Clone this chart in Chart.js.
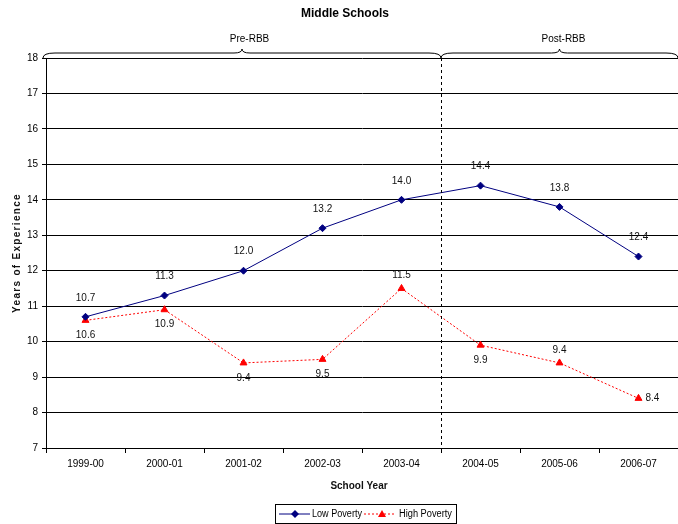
<!DOCTYPE html>
<html><head><meta charset="utf-8">
<script src="https://cdn.jsdelivr.net/npm/chart.js@4.4.0/dist/chart.umd.min.js"></script>
<style>html,body{margin:0;padding:0;background:#fff;}canvas{display:block;}</style>
</head><body>
<canvas id="c" width="678" height="524"></canvas>
<script>
const categories = ['1999-00','2000-01','2001-02','2002-03','2003-04','2004-05','2005-06','2006-07'];
const lowPoverty = [10.7, 11.3, 12.0, 13.2, 14.0, 14.4, 13.8, 12.4];
const highPoverty = [10.6, 10.9, 9.4, 9.5, 11.5, 9.9, 9.4, 8.4];
const highLabelPos = ['below','below','below','below','above','below','above','right'];
const periodLabels = ['Pre-RBB', 'Post-RBB'];
const FONT = '"Liberation Sans", Arial, sans-serif';

const overlay = {
  id: 'overlay',
  afterDatasetsDraw(chart) {
    const ctx = chart.ctx, x = chart.scales.x, y = chart.scales.y, ca = chart.chartArea;
    ctx.save();
    // divider
    const xd = (x.getPixelForValue(4) + x.getPixelForValue(5)) / 2;
    ctx.strokeStyle = '#000'; ctx.lineWidth = 1; ctx.setLineDash([3,3]);
    ctx.beginPath(); ctx.moveTo(Math.round(xd)+0.5, ca.top); ctx.lineTo(Math.round(xd)+0.5, ca.bottom); ctx.stroke();
    ctx.setLineDash([]);
    // braces
    function brace(x1, x2, yb) {
      const m = (x1 + x2) / 2;
      ctx.beginPath();
      ctx.moveTo(x1, yb + 5);
      ctx.quadraticCurveTo(x1, yb, x1 + 12, yb);
      ctx.lineTo(m - 8, yb);
      ctx.quadraticCurveTo(m, yb, m, yb - 4);
      ctx.quadraticCurveTo(m, yb, m + 8, yb);
      ctx.lineTo(x2 - 12, yb);
      ctx.quadraticCurveTo(x2, yb, x2, yb + 5);
      ctx.stroke();
    }
    ctx.lineWidth = 1;
    brace(ca.left - 3, xd, 53);
    brace(xd, ca.right, 53);
    ctx.fillStyle = '#000'; ctx.font = '10px ' + FONT; ctx.textAlign = 'center'; ctx.textBaseline = 'middle';
    ctx.fillText(periodLabels[0], (ca.left + xd) / 2 + 6, 39);
    ctx.fillText(periodLabels[1], (xd + ca.right) / 2 + 4, 39);
    // data labels
    ctx.fillStyle = '#111';
    lowPoverty.forEach((v, i) => {
      ctx.textAlign = 'center';
      ctx.fillText(v.toFixed(1), x.getPixelForValue(i), y.getPixelForValue(v) - 19);
    });
    highPoverty.forEach((v, i) => {
      const px = x.getPixelForValue(i), py = y.getPixelForValue(v);
      const p = highLabelPos[i];
      if (p === 'below') { ctx.textAlign = 'center'; ctx.fillText(v.toFixed(1), px, py + 15); }
      else if (p === 'above') { ctx.textAlign = 'center'; ctx.fillText(v.toFixed(1), px, py - 13); }
      else { ctx.textAlign = 'left'; ctx.fillText(v.toFixed(1), px + 7, py); }
    });
    // axis titles
    ctx.font = 'bold 10px ' + FONT; ctx.textAlign = 'center';
    ctx.fillText('School Year', (ca.left + ca.right) / 2 - 3, 486);
    ctx.save();
    ctx.translate(17, (ca.top + ca.bottom) / 2);
    ctx.rotate(-Math.PI / 2);
    ctx.letterSpacing = '1.3px';
    ctx.fillText('Years of Experience', 0, 0);
    ctx.restore();
    // legend
    const lx = 275, ly = 504, lw = 181, lh = 19;
    ctx.strokeStyle = '#000'; ctx.lineWidth = 1;
    ctx.strokeRect(lx + 0.5, ly + 0.5, lw, lh);
    const cy = ly + lh / 2 + 0.5;
    const d0 = chart.data.datasets[0], d1 = chart.data.datasets[1];
    ctx.strokeStyle = d0.borderColor; ctx.beginPath(); ctx.moveTo(lx + 4, cy); ctx.lineTo(lx + 35, cy); ctx.stroke();
    ctx.fillStyle = d0.pointBackgroundColor;
    ctx.beginPath(); ctx.moveTo(lx + 20, cy - 4); ctx.lineTo(lx + 24, cy); ctx.lineTo(lx + 20, cy + 4); ctx.lineTo(lx + 16, cy); ctx.closePath(); ctx.fill();
    ctx.fillStyle = '#000'; ctx.font = '10px ' + FONT; ctx.textAlign = 'left';
    ctx.fillText(d0.label, lx + 37, cy, 50);
    ctx.strokeStyle = d1.borderColor; ctx.setLineDash([2,2]);
    ctx.beginPath(); ctx.moveTo(lx + 89, cy); ctx.lineTo(lx + 121, cy); ctx.stroke(); ctx.setLineDash([]);
    ctx.fillStyle = d1.pointBackgroundColor;
    ctx.beginPath(); ctx.moveTo(lx + 107, cy - 4); ctx.lineTo(lx + 111, cy + 3); ctx.lineTo(lx + 103, cy + 3); ctx.closePath(); ctx.fill();
    ctx.fillStyle = '#000';
    ctx.fillText(d1.label, lx + 124, cy, 53);
    // title
    ctx.font = 'bold 12px ' + FONT; ctx.textAlign = 'center';
    ctx.fillText('Middle Schools', 345, 14);
    ctx.restore();
  }
};

new Chart(document.getElementById('c'), {
  type: 'line',
  data: {
    labels: categories,
    datasets: [
      { label: 'Low Poverty', data: lowPoverty, borderColor: '#000080', backgroundColor: '#000080',
        pointBackgroundColor: '#000080', pointBorderColor: '#000080', borderWidth: 1,
        pointStyle: 'rectRot', pointRadius: 3.5, tension: 0 },
      { label: 'High Poverty', data: highPoverty, borderColor: '#ff0000', backgroundColor: '#ff0000',
        pointBackgroundColor: '#ff0000', pointBorderColor: '#ff0000', borderWidth: 1, borderDash: [2,2],
        pointStyle: 'triangle', pointRadius: 4, tension: 0 }
    ]
  },
  options: {
    responsive: false, animation: false, devicePixelRatio: 1,
    layout: { autoPadding: false, padding: { top: 58, right: 0, left: 0, bottom: 0 } },
    plugins: { legend: { display: false }, title: { display: false }, tooltip: { enabled: false } },
    scales: {
      x: {
        offset: true,
        afterFit: s => { s.height = 76; s.paddingLeft = 0; s.paddingRight = 0; },
        grid: { display: true, drawOnChartArea: false, color: '#000', tickLength: 5, offset: true },
        border: { color: '#000' },
        ticks: { color: '#000', font: { family: FONT, size: 10 }, padding: 5, maxRotation: 0 }
      },
      y: {
        min: 7, max: 18,
        afterFit: s => { s.width = 46; },
        grid: { color: '#000', tickLength: 4 },
        border: { color: '#000' },
        ticks: { stepSize: 1, color: '#000', font: { family: FONT, size: 10 }, padding: 4 }
      }
    }
  },
  plugins: [overlay]
});
</script>
</body></html>
